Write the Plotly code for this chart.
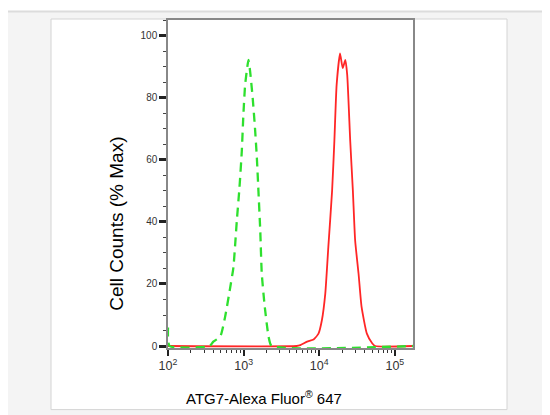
import plotly.graph_objects as go

# Isotype control (green dashed)
green_x = [100, 105, 355, 398, 490, 569, 661, 733, 813, 881, 946, 993, 1047, 1159,
           1219, 1318, 1413, 1496, 1570, 1660, 1738, 1905, 2138, 2344, 173780]
green_y = [6, 0, 0, 1.4, 3, 9.4, 18.5, 25.4, 40.4, 51, 62.8, 74.6, 84.2, 92.2,
           88.5, 80, 70.3, 60.7, 50, 37.2, 23.3, 12.6, 3, 0, 0]

# ATG7 stained (red solid)
red_x = [100, 5012, 5623, 6918, 8414, 9772, 10839, 12023, 13183, 14791, 15849, 16982,
         18836, 20417, 22131, 23442, 25704, 27861, 29854, 33113, 36308, 42658, 50119,
         54954, 173780]
red_y = [0, 0, 0.3, 1.4, 2.1, 4, 8.3, 16.9, 31.8, 50, 66, 84.2,
         94.3, 89.6, 92.2, 87.4, 66, 50, 34, 23.3, 12.6, 4, 0.9,
         0, 0]

y_ticks = [0, 20, 40, 60, 80, 100]
x_title = "ATG7-Alexa Fluor<sup>®</sup> 647"
y_title = "Cell Counts (% Max)"

fig = go.Figure()
fig.add_trace(go.Scatter(x=red_x, y=red_y, mode="lines",
                         line=dict(color="#ff2626", width=1.8, shape="spline", smoothing=0.5),
                         hoverinfo="skip", showlegend=False))
fig.add_trace(go.Scatter(x=green_x, y=green_y, mode="lines",
                         line=dict(color="#2ee02e", width=2.3, dash="9px,6px",
                                   shape="spline", smoothing=0.5),
                         hoverinfo="skip", showlegend=False))

OFF = 8  # page body margin
L, R, T, B = 168 - OFF, 413 - OFF, 18 - OFF, 348 - OFF
W, H = 550 - OFF, 415 - OFF
pw, ph = R - L, B - T


def px(xp):
    return (xp - OFF - L) / pw


def py(yp):
    return (B - (yp - OFF)) / ph


shapes = [
    dict(type="rect", xref="paper", yref="paper", x0=px(7), x1=px(570), y0=py(430), y1=py(9),
         fillcolor="#f4f4f4", line=dict(width=0), layer="below"),
    dict(type="line", xref="paper", yref="paper", x0=px(7), x1=px(570), y0=py(9.5), y1=py(9.5),
         line=dict(color="#dcdcdc", width=2), layer="below"),
    dict(type="rect", xref="paper", yref="paper", x0=px(51), x1=px(507), y0=py(410), y1=py(17),
         fillcolor="white", line=dict(color="#d4d4d4", width=1), layer="below"),
]

fig.update_layout(
    width=W, height=H,
    margin=dict(l=L, r=W - R, t=T, b=H - B),
    paper_bgcolor="white",
    plot_bgcolor="rgba(0,0,0,0)",
    shapes=shapes,
    font=dict(family="Liberation Sans, Arial, sans-serif", color="#222"),
    xaxis=dict(
        type="log", range=[2, 5.24], dtick=1, exponentformat="power",
        showgrid=False, zeroline=False,
        showline=True, linecolor="#888", linewidth=1.5, mirror=True,
        ticks="outside", ticklen=6, tickwidth=1.5, tickcolor="#222",
        tickfont=dict(size=10, family="Liberation Sans Narrow, Liberation Sans, Arial", color="#333"),
        minor=dict(dtick="D1", ticks="outside", ticklen=3, tickwidth=1, tickcolor="#333"),
    ),
    yaxis=dict(
        range=[-0.64, 105.1], tickvals=y_ticks,
        showgrid=False, zeroline=False,
        showline=True, linecolor="#888", linewidth=1.5, mirror=True,
        ticks="outside", ticklen=7, tickwidth=2.5, tickcolor="#222",
        tickfont=dict(size=10, family="Liberation Sans Narrow, Liberation Sans, Arial", color="#333"),
        minor=dict(dtick=5, ticks="outside", ticklen=3, tickwidth=1, tickcolor="#444"),
    ),
    annotations=[
        dict(text=y_title, xref="paper", yref="paper", x=px(117), y=py(223),
             textangle=-90, showarrow=False, xanchor="center", yanchor="middle",
             font=dict(size=19, color="black", family="Liberation Sans, Arial")),
        dict(text=x_title, xref="paper", yref="paper", x=px(264), y=py(398),
             showarrow=False, xanchor="center", yanchor="middle",
             font=dict(size=15, color="black", family="Liberation Sans, Arial")),
    ],
)

fig.write_html("out.html")
